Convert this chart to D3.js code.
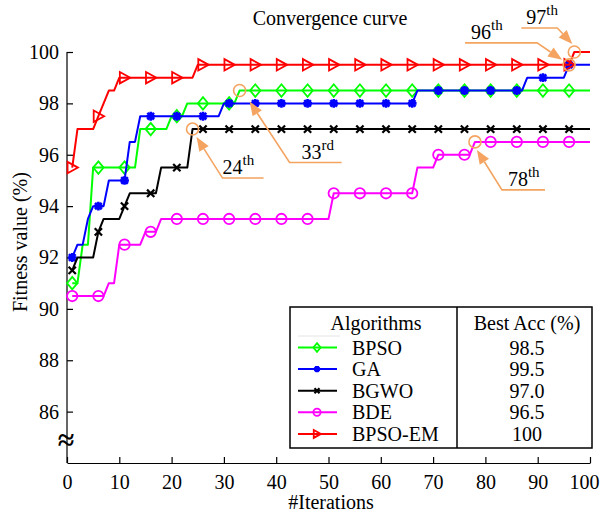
<!DOCTYPE html>
<html lang="en">
<head>
<meta charset="utf-8">
<title>Convergence curve</title>
<script src="https://cdn.jsdelivr.net/npm/d3@7"></script>
<style>
  body { margin: 0; background: #fff; }
  svg, svg text { font-family: "Liberation Serif", "Times New Roman", serif; }
  svg { display: block; }
</style>
</head>
<body>
<svg id="chart" width="600" height="515"></svg>
<script>
// iterations 1..100, one value per iteration
const iterations = d3.range(1, 101)
const markerIters = [1, 6, 11, 16, 21, 26, 31, 36, 41, 46, 51, 56, 61, 66, 71, 76, 81, 86, 91, 96]

const bpso = [
  91, 91, 92.5, 92.5, 95.5, 95.5, 95.5, 95.5, 95.5, 95.5,
  95.5, 95.5, 95.5, 97, 97, 97, 97, 97, 97, 97.5,
  97.5, 97.5, 98, 98, 98, 98, 98, 98, 98, 98,
  98, 98, 98.5, 98.5, 98.5, 98.5, 98.5, 98.5, 98.5, 98.5,
  98.5, 98.5, 98.5, 98.5, 98.5, 98.5, 98.5, 98.5, 98.5, 98.5,
  98.5, 98.5, 98.5, 98.5, 98.5, 98.5, 98.5, 98.5, 98.5, 98.5,
  98.5, 98.5, 98.5, 98.5, 98.5, 98.5, 98.5, 98.5, 98.5, 98.5,
  98.5, 98.5, 98.5, 98.5, 98.5, 98.5, 98.5, 98.5, 98.5, 98.5,
  98.5, 98.5, 98.5, 98.5, 98.5, 98.5, 98.5, 98.5, 98.5, 98.5,
  98.5, 98.5, 98.5, 98.5, 98.5, 98.5, 98.5, 98.5, 98.5, 98.5
]
const ga = [
  92, 92.5, 92.5, 93.5, 94, 94, 94, 95, 95, 95,
  95, 96.5, 96.5, 97.5, 97.5, 97.5, 97.5, 97.5, 97.5, 97.5,
  97.5, 97.5, 97.5, 97.5, 97.5, 97.5, 97.5, 97.5, 97.5, 98,
  98, 98, 98, 98, 98, 98, 98, 98, 98, 98,
  98, 98, 98, 98, 98, 98, 98, 98, 98, 98,
  98, 98, 98, 98, 98, 98, 98, 98, 98, 98,
  98, 98, 98, 98, 98, 98, 98.5, 98.5, 98.5, 98.5,
  98.5, 98.5, 98.5, 98.5, 98.5, 98.5, 98.5, 98.5, 98.5, 98.5,
  98.5, 98.5, 98.5, 98.5, 98.5, 98.5, 98.5, 99, 99, 99,
  99, 99, 99, 99, 99, 99.5, 99.5, 99.5, 99.5, 99.5
]
const bgwo = [
  91.5, 92, 92, 92, 92, 93, 93.5, 93.5, 93.5, 93.5,
  94, 94.5, 94.5, 94.5, 94.5, 94.5, 94.5, 95.5, 95.5, 95.5,
  95.5, 95.5, 95.5, 97, 97, 97, 97, 97, 97, 97,
  97, 97, 97, 97, 97, 97, 97, 97, 97, 97,
  97, 97, 97, 97, 97, 97, 97, 97, 97, 97,
  97, 97, 97, 97, 97, 97, 97, 97, 97, 97,
  97, 97, 97, 97, 97, 97, 97, 97, 97, 97,
  97, 97, 97, 97, 97, 97, 97, 97, 97, 97,
  97, 97, 97, 97, 97, 97, 97, 97, 97, 97,
  97, 97, 97, 97, 97, 97, 97, 97, 97, 97
]
const bde = [
  90.5, 90.5, 90.5, 90.5, 90.5, 90.5, 90.5, 91, 91, 92.5,
  92.5, 92.5, 92.5, 92.5, 93, 93, 93, 93.5, 93.5, 93.5,
  93.5, 93.5, 93.5, 93.5, 93.5, 93.5, 93.5, 93.5, 93.5, 93.5,
  93.5, 93.5, 93.5, 93.5, 93.5, 93.5, 93.5, 93.5, 93.5, 93.5,
  93.5, 93.5, 93.5, 93.5, 93.5, 93.5, 93.5, 93.5, 93.5, 93.5,
  94.5, 94.5, 94.5, 94.5, 94.5, 94.5, 94.5, 94.5, 94.5, 94.5,
  94.5, 94.5, 94.5, 94.5, 94.5, 94.5, 95.5, 95.5, 95.5, 95.5,
  96, 96, 96, 96, 96, 96, 96, 96.5, 96.5, 96.5,
  96.5, 96.5, 96.5, 96.5, 96.5, 96.5, 96.5, 96.5, 96.5, 96.5,
  96.5, 96.5, 96.5, 96.5, 96.5, 96.5, 96.5, 96.5, 96.5, 96.5
]
const bpsoEm = [
  95.5, 97, 97, 97, 97, 97.5, 98, 98.5, 98.5, 99,
  99, 99, 99, 99, 99, 99, 99, 99, 99, 99,
  99, 99, 99, 99, 99.5, 99.5, 99.5, 99.5, 99.5, 99.5,
  99.5, 99.5, 99.5, 99.5, 99.5, 99.5, 99.5, 99.5, 99.5, 99.5,
  99.5, 99.5, 99.5, 99.5, 99.5, 99.5, 99.5, 99.5, 99.5, 99.5,
  99.5, 99.5, 99.5, 99.5, 99.5, 99.5, 99.5, 99.5, 99.5, 99.5,
  99.5, 99.5, 99.5, 99.5, 99.5, 99.5, 99.5, 99.5, 99.5, 99.5,
  99.5, 99.5, 99.5, 99.5, 99.5, 99.5, 99.5, 99.5, 99.5, 99.5,
  99.5, 99.5, 99.5, 99.5, 99.5, 99.5, 99.5, 99.5, 99.5, 99.5,
  99.5, 99.5, 99.5, 99.5, 99.5, 99.5, 100, 100, 100, 100
]

const algorithms = ["BPSO", "GA", "BGWO", "BDE", "BPSO-EM"]
const bestAcc = ["98.5", "99.5", "97.0", "96.5", "100"]
const seriesValues = [bpso, ga, bgwo, bde, bpsoEm]
const colors = ["#00ff00", "#0000ff", "#000000", "#ff00ff", "#ff0000"]
const markers = ["diamond", "asterisk", "cross", "circle", "triangle"]

const xTicks = [0, 10, 20, 30, 40, 50, 60, 70, 80, 90, 100]
const yTicks = [86, 88, 90, 92, 94, 96, 98, 100]

// highlighted points: [iteration, value, label, superscript]
const notes = [
  [24, 97, "24", "th"],
  [33, 98.5, "33", "rd"],
  [78, 96.5, "78", "th"],
  [96, 99.5, "96", "th"],
  [97, 100, "97", "th"]
]

const serif = '"Liberation Serif", "Times New Roman", serif'
const orange = "#f4a460"
const svg = d3.select("#chart")

const x = d3.scaleLinear().domain([0, 100]).range([67, 590])
const y = d3.scaleLinear().domain([84, 100]).range([463, 52])

// axes, ticks pointing inward
const styleAxis = g => {
  g.attr("font-family", serif).attr("font-size", 20)
  g.selectAll("text").attr("fill", "#000").attr("font-family", serif)
  g.selectAll("line,path").attr("stroke", "#000").attr("stroke-width", 1.2)
}

svg.append("g")
  .attr("transform", `translate(0,${y(84)})`)
  .call(d3.axisBottom(x).tickValues(xTicks).tickSize(-6).tickSizeOuter(0).tickPadding(12))
  .call(styleAxis)
  .call(g => g.selectAll(".tick text").filter(d => d === 100).attr("dx", -6))

svg.append("g")
  .attr("transform", `translate(${x(0)},0)`)
  .call(d3.axisLeft(y).tickValues(yTicks).tickSize(-6).tickSizeOuter(0).tickPadding(8))
  .call(g => g.select(".domain").attr("d", `M0,${y(84)}V${y(100)}`))
  .call(styleAxis)

// axis break mark
svg.append("text")
  .attr("x", x(0) - 1)
  .attr("y", y(84.9))
  .attr("dy", "0.35em")
  .attr("text-anchor", "middle")
  .attr("font-size", 30)
  .attr("font-weight", "bold")
  .text("≈")

svg.append("text")
  .attr("x", 330).attr("y", 25)
  .attr("text-anchor", "middle")
  .attr("font-size", 20)
  .text("Convergence curve")

svg.append("text")
  .attr("x", 331).attr("y", 509)
  .attr("text-anchor", "middle")
  .attr("font-size", 20)
  .text("#Iterations")

svg.append("text")
  .attr("transform", `translate(27,${y(92.6)}) rotate(-90)`)
  .attr("text-anchor", "middle")
  .attr("font-size", 20)
  .text("Fitness value (%)")

function drawMarker(g, type, color, s) {
  if (type === "diamond") {
    g.append("path").attr("d", `M0,${-s * 1.2}L${s},0L0,${s * 1.2}L${-s},0Z`)
      .attr("fill", "none").attr("stroke", color).attr("stroke-width", 1.8)
  } else if (type === "asterisk") {
    const r = s * 0.85
    g.append("path")
      .attr("d", `M${-r},0H${r}M0,${-r}V${r}M${-r * 0.75},${-r * 0.75}L${r * 0.75},${r * 0.75}M${-r * 0.75},${r * 0.75}L${r * 0.75},${-r * 0.75}`)
      .attr("stroke", color).attr("stroke-width", 2.6)
    g.append("circle").attr("r", r * 0.55).attr("fill", color)
  } else if (type === "cross") {
    const r = s * 0.7
    g.append("path").attr("d", `M${-r},${-r}L${r},${r}M${-r},${r}L${r},${-r}`)
      .attr("stroke", color).attr("stroke-width", 2.2)
  } else if (type === "circle") {
    g.append("circle").attr("r", s).attr("fill", "none").attr("stroke", color).attr("stroke-width", 1.8)
  } else {
    g.append("path").attr("d", `M${-s * 0.9},${-s * 1.1}L${s * 1.1},0L${-s * 0.9},${s * 1.1}Z`)
      .attr("fill", "none").attr("stroke", color).attr("stroke-width", 1.8)
  }
}

const line = d3.line().x((d, i) => x(iterations[i])).y(d => y(d))

seriesValues.forEach((vals, k) => {
  svg.append("path")
    .datum(vals)
    .attr("fill", "none")
    .attr("stroke", colors[k])
    .attr("stroke-width", 2)
    .attr("stroke-linejoin", "round")
    .attr("d", line)

  svg.append("g")
    .selectAll("g")
    .data(markerIters)
    .join("g")
    .attr("transform", it => `translate(${x(it)},${y(vals[iterations.indexOf(it)])})`)
    .each(function () { drawMarker(d3.select(this), markers[k], colors[k], 5.2) })
})

// annotations: circle, arrow and label
const noteLayout = {
  24: { tip: [4, 8], bend: [30, 49], end: [71, 49], text: [30, 45] },
  33: { tip: [10, 11], bend: [50, 72], end: [102, 72], text: [62, 68] },
  78: { tip: [2, 8], bend: [27, 48], end: [70, 48], text: [33, 44] },
  96: { tip: [-7, -5], bend: [-32, -22], end: [-104, -22], text: [-98, -26] },
  97: { tip: [-2, -8], bend: [-17, -24], end: [-53, -24], text: [-48, -28] }
}

const notesG = svg.append("g")
notes.forEach(([it, v, label, sup]) => {
  const cx = x(it), cy = y(v)
  const L = noteLayout[it]
  notesG.append("circle")
    .attr("cx", cx).attr("cy", cy).attr("r", 6)
    .attr("fill", "none").attr("stroke", orange).attr("stroke-width", 1.6)

  const tip = [cx + L.tip[0], cy + L.tip[1]]
  const bend = [cx + L.bend[0], cy + L.bend[1]]
  const end = [cx + L.end[0], cy + L.end[1]]
  const ang = Math.atan2(tip[1] - bend[1], tip[0] - bend[0])
  const len = 14, hw = 5.5
  const base = [tip[0] - len * Math.cos(ang), tip[1] - len * Math.sin(ang)]

  notesG.append("path")
    .attr("d", `M${end}L${bend}L${base}`)
    .attr("fill", "none").attr("stroke", orange).attr("stroke-width", 1.6)
  notesG.append("path")
    .attr("d", `M${tip}L${base[0] + hw * Math.sin(ang)},${base[1] - hw * Math.cos(ang)}L${base[0] - hw * Math.sin(ang)},${base[1] + hw * Math.cos(ang)}Z`)
    .attr("fill", orange)

  const t = notesG.append("text")
    .attr("x", cx + L.text[0]).attr("y", cy + L.text[1])
    .attr("font-size", 20)
  t.append("tspan").text(label)
  t.append("tspan").attr("font-size", 15).attr("dy", -9).text(sup)
})

// legend table
const lg = svg.append("g")
lg.append("rect")
  .attr("x", 290).attr("y", 307).attr("width", 302).attr("height", 141)
  .attr("fill", "#fff").attr("stroke", "#000").attr("stroke-width", 1.5)
lg.append("line")
  .attr("x1", 457).attr("x2", 457).attr("y1", 307).attr("y2", 448)
  .attr("stroke", "#000").attr("stroke-width", 1.5)
lg.append("line")
  .attr("x1", 298).attr("x2", 340).attr("y1", 336).attr("y2", 336)
  .attr("stroke", "#e4e4e4").attr("stroke-width", 1)

lg.append("text").attr("x", 376).attr("y", 330).attr("text-anchor", "middle")
  .attr("font-size", 20).text("Algorithms")
lg.append("text").attr("x", 527).attr("y", 330).attr("text-anchor", "middle")
  .attr("font-size", 20).text("Best Acc (%)")

algorithms.forEach((name, k) => {
  const cy = 347.5 + k * 21.6
  lg.append("line")
    .attr("x1", 298).attr("x2", 337).attr("y1", cy).attr("y2", cy)
    .attr("stroke", colors[k]).attr("stroke-width", 2)
  const m = lg.append("g").attr("transform", `translate(317,${cy})`)
  drawMarker(m, markers[k], colors[k], 3.6)
  lg.append("text").attr("x", 352).attr("y", cy).attr("dy", "0.35em")
    .attr("font-size", 20).text(name)
  lg.append("text").attr("x", 527).attr("y", cy).attr("dy", "0.35em")
    .attr("text-anchor", "middle").attr("font-size", 20).text(bestAcc[k])
})
</script>
</body>
</html>
